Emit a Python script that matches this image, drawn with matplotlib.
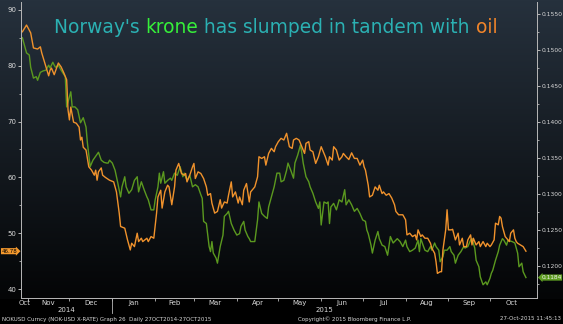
import numpy as np
import matplotlib
matplotlib.use('Agg')
import matplotlib.pyplot as plt
import matplotlib.dates as mdates
import matplotlib.transforms as mtransforms

# data, days counted from the first date of the chart
start = np.datetime64('2014-10-27')
end = np.datetime64('2015-10-27')

# Brent crude (left axis, orange)
oil_days = [1, 4, 7, 9, 12, 14, 15, 18, 20, 21,
            22, 24, 27, 29, 31, 33, 34, 35, 36, 38,
            40, 42, 43, 44, 45, 47, 49, 51, 53, 54,
            55, 56, 58, 59, 61, 64, 67, 69, 71, 72,
            75, 77, 79, 80, 82, 84, 85, 87, 88, 91,
            92, 94, 96, 98, 99, 101, 102, 104, 106, 107,
            109, 111, 112, 114, 116, 118, 119, 120, 122, 124,
            125, 126, 128, 130, 132, 134, 135, 137, 138, 140,
            142, 144, 145, 147, 149, 150, 152, 153, 155, 157,
            158, 160, 161, 163, 165, 166, 169, 171, 172, 174,
            176, 177, 179, 181, 183, 184, 186, 187, 188, 190,
            192, 194, 196, 197, 199, 201, 203, 205, 206, 208,
            209, 211, 213, 215, 217, 218, 220, 222, 223, 225,
            226, 228, 230, 232, 233, 235, 237, 239, 241, 243,
            245, 247, 248, 249, 251, 252, 254, 256, 258, 259,
            261, 262, 264, 266, 268, 270, 271, 273, 276, 278,
            279, 281, 283, 285, 286, 287, 289, 290, 292, 294,
            296, 297, 299, 300, 301, 303, 304, 305, 307, 308,
            309, 311, 312, 314, 316, 317, 319, 320, 322, 323,
            325, 326, 327, 328, 329, 331, 332, 334, 336, 337,
            339, 340, 342, 343, 345, 346, 347, 348, 350, 351,
            352, 353, 354, 356, 357, 358, 359, 361, 363, 365]
oil_vals = [86.1, 87.3, 85.9, 83.2, 83.0, 83.4, 82.3, 79.8, 78.2, 79.2,
            79.6, 78.4, 80.5, 79.8, 78.7, 77.5, 72.1, 70.3, 72.6, 69.9,
            69.7, 69.0, 66.7, 67.2, 65.4, 64.9, 61.9, 61.3, 60.4, 61.3,
            59.5, 61.0, 61.7, 60.4, 60.0, 59.5, 59.2, 57.4, 53.6, 51.2,
            50.9, 48.8, 47.0, 48.2, 47.6, 50.0, 48.5, 49.1, 48.5, 49.1,
            48.5, 49.4, 49.1, 53.6, 56.5, 57.7, 54.5, 57.4, 58.6, 58.3,
            55.1, 58.3, 61.3, 62.5, 60.7, 60.4, 60.7, 59.2, 60.4, 61.9,
            62.5, 59.8, 61.0, 60.7, 59.8, 58.3, 56.8, 57.1, 55.4, 53.6,
            53.9, 56.0, 54.5, 55.6, 55.4, 56.8, 59.2, 56.5, 57.4, 55.4,
            56.5, 55.1, 57.7, 58.9, 55.6, 57.4, 58.3, 60.1, 63.7, 63.4,
            63.7, 62.2, 64.3, 65.2, 64.6, 65.5, 66.4, 66.7, 67.0, 66.7,
            67.9, 65.5, 65.2, 66.7, 67.0, 66.7, 65.5, 64.3, 66.1, 66.4,
            64.9, 64.6, 62.5, 63.7, 65.5, 64.9, 63.7, 62.2, 63.7, 63.1,
            65.5, 64.9, 63.1, 63.7, 64.3, 63.7, 63.2, 64.4, 63.4, 63.4,
            62.2, 63.1, 61.9, 61.3, 58.6, 56.5, 56.8, 58.3, 57.7, 58.6,
            57.1, 57.4, 56.8, 57.1, 56.3, 55.1, 53.9, 53.3, 53.3, 52.4,
            49.7, 50.0, 49.4, 49.7, 48.8, 50.6, 49.4, 49.7, 49.1, 49.1,
            48.2, 47.3, 46.4, 44.9, 42.8, 43.1, 43.1, 47.0, 50.6, 54.2,
            50.6, 50.6, 50.7, 48.8, 50.0, 47.9, 49.1, 47.6, 47.6, 48.8,
            49.7, 47.9, 49.1, 48.5, 47.9, 48.5, 47.6, 48.5, 47.6, 48.2,
            47.6, 47.9, 48.8, 51.8, 51.5, 53.0, 52.7, 51.2, 49.4, 49.1,
            48.8, 48.5, 50.0, 50.6, 49.1, 48.5, 48.2, 47.9, 47.6, 46.78]

# NOK-USD rate (right axis, green)
nok_days = [1, 4, 6, 7, 9, 11, 12, 14, 16, 18,
            20, 21, 23, 24, 25, 27, 29, 32, 33, 36,
            37, 39, 41, 43, 45, 47, 48, 50, 52, 56,
            58, 60, 62, 63, 64, 66, 68, 70, 72, 73,
            75, 76, 78, 80, 82, 84, 85, 87, 89, 91,
            92, 94, 96, 97, 99, 100, 101, 103, 104, 106,
            108, 109, 111, 113, 115, 117, 118, 120, 122, 124,
            126, 128, 130, 131, 132, 134, 136, 137, 138, 139,
            141, 142, 144, 146, 147, 149, 150, 152, 154, 156,
            158, 159, 161, 162, 164, 165, 166, 169, 171, 172,
            174, 176, 178, 179, 181, 183, 185, 187, 188, 190,
            192, 193, 195, 197, 198, 200, 201, 202, 203, 204,
            206, 208, 209, 211, 213, 215, 216, 217, 219, 221,
            222, 223, 224, 226, 228, 230, 232, 234, 235, 237,
            239, 241, 243, 245, 247, 249, 250, 251, 253, 254,
            256, 258, 259, 261, 263, 265, 267, 269, 270, 272,
            274, 276, 278, 279, 281, 283, 285, 287, 288, 289,
            291, 292, 294, 296, 297, 299, 300, 302, 303, 305,
            306, 308, 310, 311, 313, 314, 316, 318, 320, 321,
            323, 325, 326, 328, 329, 331, 332, 334, 336, 337,
            339, 340, 341, 343, 345, 346, 348, 349, 351, 352,
            353, 355, 357, 359, 360, 362, 363, 365]
nok_vals = [0.1517, 0.1496, 0.1493, 0.1476, 0.1461, 0.1463, 0.1458, 0.1469, 0.1471, 0.1472,
            0.1479, 0.1475, 0.1483, 0.1479, 0.1476, 0.1479, 0.1472, 0.1463, 0.1421, 0.1442,
            0.1421, 0.1421, 0.1417, 0.1399, 0.1406, 0.1393, 0.1371, 0.1338, 0.1347, 0.1358,
            0.1347, 0.1344, 0.1343, 0.1343, 0.1347, 0.1343, 0.1333, 0.1315, 0.1296, 0.1310,
            0.1324, 0.1310, 0.1301, 0.1306, 0.1319, 0.1324, 0.1303, 0.1317, 0.1306, 0.1296,
            0.1292, 0.1278, 0.1278, 0.1292, 0.1310, 0.1329, 0.1315, 0.1331, 0.1315, 0.1319,
            0.1322, 0.1319, 0.1329, 0.1326, 0.1338, 0.1324, 0.1329, 0.1319, 0.1326, 0.1310,
            0.1313, 0.1310, 0.1299, 0.1294, 0.1262, 0.1259, 0.1227, 0.1220, 0.1234, 0.1218,
            0.1211, 0.1204, 0.1227, 0.1243, 0.1269, 0.1273, 0.1276, 0.1259, 0.1250, 0.1243,
            0.1245, 0.1255, 0.1262, 0.1250, 0.1241, 0.1238, 0.1234, 0.1234, 0.1264, 0.1289,
            0.1273, 0.1269, 0.1266, 0.1282, 0.1296, 0.1310, 0.1329, 0.1329, 0.1317, 0.1319,
            0.1333, 0.1343, 0.1333, 0.1322, 0.1343, 0.1354, 0.1361, 0.1368, 0.1357, 0.1343,
            0.1324, 0.1317, 0.1310, 0.1301, 0.1289, 0.1280, 0.1289, 0.1257, 0.1289, 0.1287,
            0.1289, 0.1259, 0.1282, 0.1287, 0.1278, 0.1292, 0.1289, 0.1306, 0.1285, 0.1292,
            0.1285, 0.1276, 0.1280, 0.1273, 0.1264, 0.1262, 0.1250, 0.1245, 0.1229, 0.1218,
            0.1236, 0.1248, 0.1238, 0.1229, 0.1227, 0.1215, 0.1241, 0.1232, 0.1234, 0.1238,
            0.1234, 0.1227, 0.1236, 0.1227, 0.1220, 0.1222, 0.1225, 0.1236, 0.1220, 0.1238,
            0.1227, 0.1222, 0.1220, 0.1227, 0.1222, 0.1232, 0.1227, 0.1222, 0.1206, 0.1213,
            0.1222, 0.1222, 0.1227, 0.1220, 0.1215, 0.1204, 0.1215, 0.1220, 0.1227, 0.1225,
            0.1227, 0.1236, 0.1238, 0.1225, 0.1208, 0.1199, 0.1185, 0.1174, 0.1178, 0.1174,
            0.1183, 0.1190, 0.1194, 0.1208, 0.1220, 0.1229, 0.1238, 0.1236, 0.1229, 0.1236,
            0.1235, 0.1234, 0.1232, 0.1218, 0.1199, 0.1204, 0.1192, 0.1184]

title_parts = [("Norway's ", '#2bb1b3'), ('krone', '#36f03a'),
               (' has slumped in tandem with ', '#2bb1b3'), ('oil', '#f2852a')]
footer_left = 'NOKUSD Curncy (NOK-USD X-RATE) Graph 26  Daily 27OCT2014-27OCT2015'
footer_mid = 'Copyright\u00a9 2015 Bloomberg Finance L.P.'
footer_right = '27-Oct-2015 11:45:13'

ORANGE = '#f0922c'
GREEN = '#5b991f'
AXCOL = '#b8b8b8'
TXT = '#d8d8d8'

W, H = 563, 324
fig = plt.figure(figsize=(W / 100, H / 100), dpi=100)
fig.patch.set_facecolor('black')

# dark blue to black background
bg = fig.add_axes([0, 0, 1, 1], zorder=-10)
top = np.array([38, 49, 61]) / 255
bot = np.array([4, 5, 6]) / 255
r = np.arange(H)
f = np.clip(r / 298, 0, 1)[:, None]
grad = top * (1 - f) + bot * f
grad[r > 298] = 0
bg.imshow(grad[:, None, :], aspect='auto', extent=[0, 1, 0, 1])
bg.axis('off')

oil_dates = start + np.array(oil_days).astype('timedelta64[D]')
nok_dates = start + np.array(nok_days).astype('timedelta64[D]')

ax = fig.add_axes([21 / W, 26 / H, 516 / W, 296 / H])
ax2 = ax.twinx()
ax.set_zorder(ax2.get_zorder() + 1)
for a in (ax, ax2):
    a.patch.set_alpha(0)
    for s in a.spines.values():
        s.set_visible(False)
ax.spines['left'].set_visible(True)
ax.spines['bottom'].set_visible(True)
ax2.spines['right'].set_visible(True)
for s in (ax.spines['left'], ax.spines['bottom'], ax2.spines['right']):
    s.set_color(AXCOL)
    s.set_linewidth(0.7)

ax2.plot(nok_dates, nok_vals, color=GREEN, lw=1.0)
ax.plot(oil_dates, oil_vals, color=ORANGE, lw=1.0)

xmin = start
xmax = start + np.timedelta64(373, 'D')
ax.set_xlim(xmin, xmax)
ax.set_ylim(38.39, 91.43)
ax2.set_ylim(0.11556, 0.15667)

ax.set_yticks(np.arange(40, 91, 10))
ax.set_yticks(np.arange(45, 90, 10), minor=True)
ax2.set_yticks(np.arange(0.1200, 0.15501, 0.005))
ax2.set_yticks(np.arange(0.1175, 0.1550, 0.005), minor=True)
ax2.yaxis.set_major_formatter(matplotlib.ticker.FormatStrFormatter('%.4f'))

ax.tick_params(axis='y', which='major', direction='out', length=2.5, width=0.7,
               colors=AXCOL, labelcolor=TXT, labelsize=5, pad=1)
ax2.tick_params(axis='y', which='major', direction='out', length=2.5, width=0.7,
                colors=AXCOL, labelcolor=TXT, labelsize=4.3, pad=0.8)
for a in (ax, ax2):
    a.tick_params(axis='y', which='minor', direction='out', length=1.5, width=0.6,
                  colors=AXCOL)

# month boundaries as ticks, month names in the middle of each month
month_starts = np.arange(np.datetime64('2014-11'), np.datetime64('2015-11'),
                         np.timedelta64(1, 'M')).astype('datetime64[D]')
ax.set_xticks(month_starts, [''] * len(month_starts))
months = np.arange(np.datetime64('2014-10'), np.datetime64('2015-11'),
                   np.timedelta64(1, 'M'))
mids, names = [], []
for m in months:
    m0 = max(m.astype('datetime64[D]'), xmin)
    m1 = min((m + 1).astype('datetime64[D]'), xmax)
    mids.append(mdates.date2num(m0) + (mdates.date2num(m1) - mdates.date2num(m0)) / 2)
    names.append(m.astype(object).strftime('%b'))
ax.set_xticks(mids, names, minor=True)
ax.tick_params(axis='x', which='major', direction='out', length=2.5, width=0.6, colors=AXCOL)
ax.tick_params(axis='x', which='minor', length=0, labelsize=5, labelcolor=TXT, pad=1.5)

# year labels and separator
trans = mtransforms.blended_transform_factory(ax.transData, ax.transAxes)
jan1 = mdates.date2num(np.datetime64('2015-01-01'))
lo, hi = mdates.date2num(xmin), mdates.date2num(xmax)
ax.text((lo + jan1) / 2, -0.042, '2014', transform=trans, ha='center', va='center',
        fontsize=5, color=TXT)
ax.text((jan1 + hi) / 2, -0.042, '2015', transform=trans, ha='center', va='center',
        fontsize=5, color=TXT)
ax.plot([jan1, jan1], [-0.005, -0.05], transform=trans, clip_on=False, color=AXCOL, lw=0.6)

# last value boxes
tl = mtransforms.blended_transform_factory(fig.transFigure, ax.transData)
ax.text(1.5 / W, oil_vals[-1], f'{oil_vals[-1]:.2f}', transform=tl, ha='left', va='center',
        fontsize=4.0, color='black',
        bbox=dict(boxstyle='rarrow,pad=0.1', fc='#f59a2e', ec='none'))
tr = mtransforms.blended_transform_factory(ax2.transAxes, ax2.transData)
ax2.text(1.008, nok_vals[-1], f'{nok_vals[-1]:.4f}', transform=tr, ha='left', va='center',
         fontsize=4.2, color='#f0f0f0',
         bbox=dict(boxstyle='larrow,pad=0.1', fc='#5f9e22', ec='none'))

# multi-coloured title
TS = 13.4
fig.canvas.draw()
rend = fig.canvas.get_renderer()
x0 = 54 / W
yb = 1 - 33 / H
prefix = ''
for text, col in title_parts:
    probe = fig.text(0, 0, prefix + '|', fontsize=TS)
    bar = fig.text(0, 0, '|', fontsize=TS)
    off = (probe.get_window_extent(rend).width - bar.get_window_extent(rend).width) / fig.bbox.width
    probe.remove()
    bar.remove()
    fig.text(x0 + off, yb, text, fontsize=TS, color=col, va='baseline', ha='left')
    prefix += text

# footer
yf = 1 - 319 / H
fig.text(2 / W, yf, footer_left, fontsize=4, color=TXT, va='center', ha='left')
fig.text(298 / W, yf, footer_mid, fontsize=4, color=TXT, va='center', ha='left')
fig.text(561 / W, yf, footer_right, fontsize=4, color=TXT, va='center', ha='right')

fig.savefig('out.png', dpi=100, facecolor=fig.get_facecolor())
